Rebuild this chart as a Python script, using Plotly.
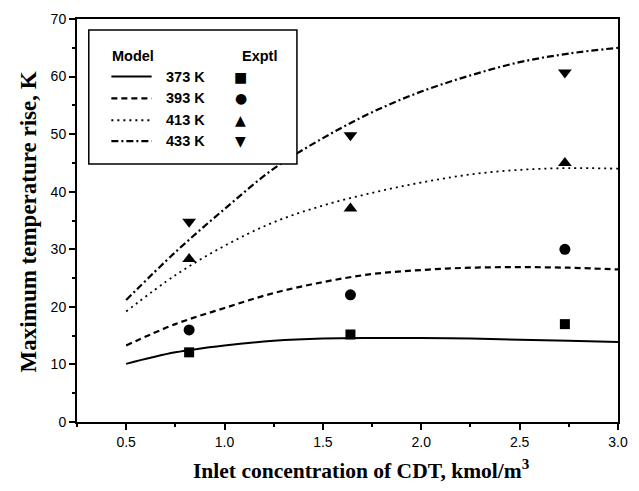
import plotly.graph_objects as go

# Model curves: maximum temperature rise vs inlet CDT concentration
conc_model = [0.5, 0.75, 1.0, 1.25, 1.5, 1.75, 2.0, 2.25, 2.5, 2.75, 3.0]
model_373 = [10.1, 12.1, 13.3, 14.1, 14.5, 14.6, 14.6, 14.5, 14.3, 14.1, 13.9]
model_393 = [13.3, 17.0, 19.8, 22.4, 24.3, 25.7, 26.4, 26.8, 26.9, 26.8, 26.5]
model_413 = [19.2, 25.5, 30.6, 34.7, 37.6, 39.8, 41.6, 43.0, 43.8, 44.1, 44.0]
model_433 = [21.2, 29.5, 37.0, 44.0, 49.3, 53.8, 57.4, 60.2, 62.5, 64.0, 65.0]

# Experimental data
conc_exp = [0.82, 1.64, 2.73]
exp_373 = [12.1, 15.2, 17.0]
exp_393 = [16.0, 22.1, 30.0]
exp_413 = [28.3, 37.1, 45.0]
exp_433 = [34.8, 49.8, 60.7]

temps = ["373 K", "393 K", "413 K", "433 K"]
models = [model_373, model_393, model_413, model_433]
exps = [exp_373, exp_393, exp_413, exp_433]
dashes = ["solid", "6px,4px", "2px,4px", "7px,3px,2px,3px"]
widths = [2, 2.2, 1.8, 2.2]
symbols = ["square", "circle", "triangle-up", "triangle-down"]
sizes = [10, 11, 12, 12]
glyphs = ["\u25A0", "\u25CF", "\u25B2", "\u25BC"]

fig = go.Figure()
for t, m, e, d, w, s, sz in zip(temps, models, exps, dashes, widths, symbols, sizes):
    fig.add_trace(go.Scatter(x=conc_model, y=m, mode="lines",
                             line=dict(color="black", dash=d, width=w, shape="spline"),
                             name=t, showlegend=False))
    fig.add_trace(go.Scatter(x=conc_exp, y=e, mode="markers",
                             marker=dict(color="black", symbol=s, size=sz),
                             name=t, showlegend=False))

# Plot-area pixel frame used to place the key and titles
L, R, T, B = 77, 628, 16, 422
W, H = R - L, B - T


def px(x):
    return (x - L) / W


def py(y):
    return (B - y) / H


# Custom two-column key (Model / Exptl)
fig.add_shape(type="rect", xref="paper", yref="paper", x0=px(89), x1=px(301), y0=py(162), y1=py(27),
              line=dict(color="black", width=1.5), fillcolor="white", layer="above")

key_font = dict(family="Liberation Sans, Arial, sans-serif", size=14.5, color="black")
for txt, cx in [("<b>Model</b>", 134), ("<b>Exptl</b>", 263)]:
    fig.add_annotation(x=px(cx), y=py(53), xref="paper", yref="paper", text=txt,
                       xanchor="center", yanchor="middle", showarrow=False, font=key_font)
row_py = [74, 96, 118, 139]
for t, d, w, g, ry in zip(temps, dashes, widths, glyphs, row_py):
    fig.add_shape(type="line", xref="paper", yref="paper",
                  x0=px(112), x1=px(153), y0=py(ry), y1=py(ry),
                  line=dict(color="black", dash=d, width=w), layer="above")
    fig.add_annotation(x=px(187), y=py(ry), xref="paper", yref="paper", text=f"<b>{t}</b>",
                       xanchor="center", yanchor="middle", showarrow=False, font=key_font)
    fig.add_annotation(x=px(244), y=py(ry), xref="paper", yref="paper", text=g,
                       xanchor="center", yanchor="middle", showarrow=False,
                       font=dict(family="DejaVu Sans", size=14, color="black"))

# Axis titles
serif = "Liberation Serif, Times New Roman, serif"
fig.add_annotation(x=px(367), y=py(470), xref="paper", yref="paper",
                   text="<b>Inlet concentration of CDT, kmol/m<sup>3</sup></b>",
                   xanchor="center", yanchor="middle", showarrow=False,
                   font=dict(family=serif, size=21.5, color="black"))
fig.add_annotation(x=px(28), y=py(220), xref="paper", yref="paper",
                   text="<b>Maximum temperature rise, K</b>", textangle=-90,
                   xanchor="center", yanchor="middle", showarrow=False,
                   font=dict(family=serif, size=23, color="black"))

tick_font = dict(family="Liberation Sans, Arial, sans-serif", size=14, color="black")

fig.update_xaxes(range=[0.25, 3.0], tickvals=[0.5, 1.0, 1.5, 2.0, 2.5, 3.0], tickformat=".1f",
                 ticks="outside", ticklen=6, tickwidth=1.5, tickcolor="black",
                 minor=dict(dtick=0.25, tick0=0.25, ticks="outside", ticklen=3, tickcolor="black"),
                 showline=True, linecolor="black", linewidth=2, mirror=True,
                 showgrid=False, zeroline=False, tickfont=tick_font)
fig.update_yaxes(range=[0, 70], dtick=10, ticks="outside", ticklen=6, tickwidth=1.5, tickcolor="black",
                 minor=dict(dtick=5, ticks="outside", ticklen=3, tickcolor="black"),
                 showline=True, linecolor="black", linewidth=2, mirror=True,
                 showgrid=False, zeroline=False, tickfont=tick_font)

fig.update_layout(width=639, height=491, margin=dict(l=L, r=639 - R, t=T, b=491 - B),
                  plot_bgcolor="white", paper_bgcolor="white", showlegend=False)

fig.write_html("out.html")
